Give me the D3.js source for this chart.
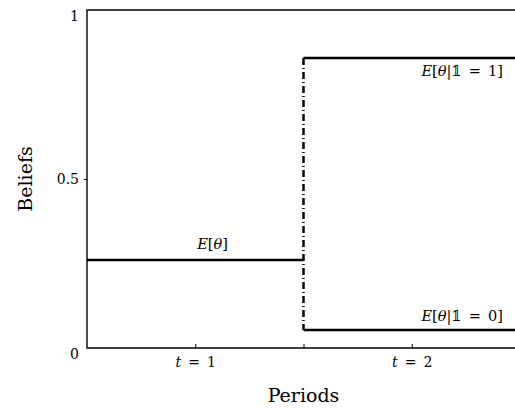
<!DOCTYPE html>
<html>
<head>
<meta charset="utf-8">
<script src="https://cdn.jsdelivr.net/npm/d3@7"></script>
<style>
  body { margin: 0; background: #fff; }
  svg text { font-family: "DejaVu Serif", serif; fill: #000; }
</style>
</head>
<body>
<svg id="chart" width="515" height="409"></svg>
<script>
// data
const periodTicks = [1, 1.5, 2];
const periodLabels = ["1", "", "2"];
const beliefTicks = [0, 0.5, 1];
const beliefTickLabels = ["0", "0.5", "1"];
const prior = [{ x: 0.5, y: 0.26 }, { x: 1.5, y: 0.26 }];
const postHigh = [{ x: 1.5, y: 0.858 }, { x: 2.5, y: 0.858 }];
const postLow = [{ x: 1.5, y: 0.053 }, { x: 2.5, y: 0.053 }];
const jump = [{ x: 1.5, y: 0.858 }, { x: 1.5, y: 0.053 }];

const serif = '"DejaVu Serif", serif';
const margin = { left: 87, top: 10, bottom: 61 };
const svg = d3.select("#chart");

const x = d3.scaleLinear().domain([0.5, 2.5]).range([margin.left, 520]);
const y = d3.scaleLinear().domain([0, 1]).range([409 - margin.bottom, margin.top]);

const line = d3.line().x(d => x(d.x)).y(d => y(d.y));

// frame: left, top and bottom
svg.append("path")
  .attr("d", `M${x(2.6)},${y(1)}H${x(0.5)}V${y(0)}H${x(2.6)}`)
  .attr("fill", "none").attr("stroke", "#000").attr("stroke-width", 1.4);

// x axis ticks (inside)
const xAxis = svg.append("g").attr("transform", `translate(0,${y(0)})`)
  .call(d3.axisBottom(x).tickValues(periodTicks).tickSizeInner(-4).tickSizeOuter(0)
    .tickFormat(""));
xAxis.select(".domain").remove();
xAxis.selectAll("line").attr("stroke-width", 1);
xAxis.selectAll(".tick").each(function (d, i) {
  if (!periodLabels[i]) return;
  const t = d3.select(this).select("text").attr("y", 9)
    .style("font-size", "14px").style("font-family", serif);
  t.append("tspan").style("font-style", "italic").text("t");
  t.append("tspan").text("\u2002=\u2002" + periodLabels[i]);
});

// y axis ticks (outside)
const yAxis = svg.append("g").attr("transform", `translate(${x(0.5)},0)`)
  .call(d3.axisLeft(y).tickValues(beliefTicks).tickSize(3)
    .tickFormat((d, i) => beliefTickLabels[i]));
yAxis.select(".domain").remove();
yAxis.selectAll("line").attr("stroke-width", 1).filter(d => d !== 0.5).remove();
yAxis.selectAll("text").attr("x", -8).style("font-size", "14px").style("font-family", serif)
  .attr("dy", d => d === 0.5 ? "0.32em" : "0.78em");

// belief lines
[prior, postHigh, postLow].forEach(seg => {
  svg.append("path").datum(seg).attr("d", line)
    .attr("fill", "none").attr("stroke", "#000").attr("stroke-width", 2.5);
});
svg.append("path").datum(jump).attr("d", line)
  .attr("fill", "none").attr("stroke", "#000").attr("stroke-width", 2.5)
  .attr("stroke-dasharray", "7,3,1,3");

// annotations
function mathLabel(xp, yp, anchor, cond) {
  const t = svg.append("text").attr("x", xp).attr("y", yp)
    .attr("text-anchor", anchor).style("font-size", "14.5px").style("font-family", serif);
  t.append("tspan").style("font-style", "italic").text("E");
  t.append("tspan").text("[");
  t.append("tspan").style("font-style", "italic").text("θ");
  if (cond !== undefined) {
    t.append("tspan").text("|");
    t.append("tspan").style("fill", "#000").text("𝟙");
    t.append("tspan").text("\u2002=\u2002" + cond);
  }
  t.append("tspan").text("]");
}
mathLabel(x(1.08), y(0.26) - 11, "middle");
mathLabel(503, 76, "end", 1);
mathLabel(503, 321, "end", 0);

// axis titles
svg.append("text").attr("x", x(1.5)).attr("y", 402)
  .attr("text-anchor", "middle").style("font-size", "19px").style("font-family", serif).text("Periods");
svg.append("text").attr("transform", `translate(32,${y(0.5)}) rotate(-90)`)
  .attr("text-anchor", "middle").style("font-size", "19px").style("font-family", serif).text("Beliefs");
</script>
</body>
</html>
